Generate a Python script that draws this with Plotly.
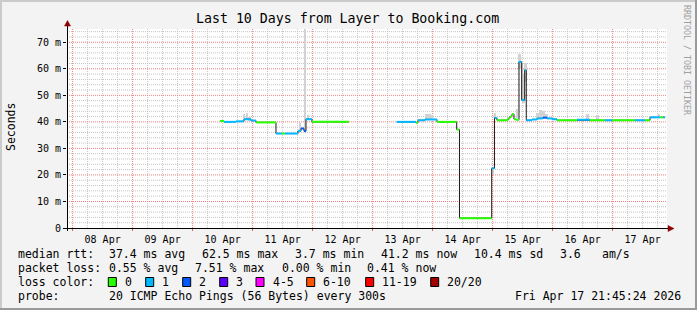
import plotly.graph_objects as go

# ---------------- data ----------------
seg_time = [
    "2026-04-10 10:57", "2026-04-10 12:33", "2026-04-10 17:21", "2026-04-10 20:33",
    "2026-04-10 23:21", "2026-04-11 01:21", "2026-04-11 09:21", "2026-04-11 11:45",
    "2026-04-11 12:57", "2026-04-11 18:09", "2026-04-11 19:21", "2026-04-11 20:33",
    "2026-04-11 21:21", "2026-04-11 23:45", "2026-04-12 14:33",
    "2026-04-13 09:38", "2026-04-13 17:21", "2026-04-13 18:09", "2026-04-13 20:57",
    "2026-04-14 01:45", "2026-04-14 09:38", "2026-04-14 10:45", "2026-04-14 23:38",
    "2026-04-15 00:45", "2026-04-15 01:45", "2026-04-15 06:09", "2026-04-15 06:57",
    "2026-04-15 07:45", "2026-04-15 08:33", "2026-04-15 09:21", "2026-04-15 10:33",
    "2026-04-15 11:38", "2026-04-15 12:50", "2026-04-15 13:28", "2026-04-15 15:45",
    "2026-04-15 17:45", "2026-04-15 20:09", "2026-04-15 21:45", "2026-04-15 23:45",
    "2026-04-16 01:45", "2026-04-16 09:45", "2026-04-16 14:57", "2026-04-16 20:57",
    "2026-04-16 23:45", "2026-04-17 08:57", "2026-04-17 12:57", "2026-04-17 14:57",
    "2026-04-17 18:57", "2026-04-17 20:09", "2026-04-17 20:57",
]
median_ms = [
    40.3, 40.0, 40.2, 41.0,
    40.5, 39.8, 35.6, 35.6,
    35.6, 36.6, 37.5, 36.5,
    41.0, 40.0, None,
    40.0, 39.7, 40.6, 40.9,
    40.0, 37.1, 3.7, 22.5,
    41.5, 40.6, 41.3, 42.0,
    42.9, 41.0, 40.8, 62.6,
    48.2, 59.5, 40.6, 40.9,
    41.3, 41.6, 41.3, 41.0,
    40.6, 40.8, 40.6, 40.6,
    40.6, 40.6, 40.6, 41.7,
    41.7, 41.7, None,
]
loss_count = [
    0, 1, 1, 1,
    1, 0, 1, 0,
    1, 1, 2, 2,
    1, 0, None,
    1, 0, 1, 1,
    0, 0, 0, 1,
    1, 0, 0, 0,
    0, 0, 0, 1,
    1, 1, 1, 1,
    1, 2, 1, 1,
    0, 1, 0, 1,
    0, 1, 0, 1,
    0, 1, None,
]

smoke_time = [
    "2026-04-10 20:30", "2026-04-10 21:40", "2026-04-10 22:50", "2026-04-11 19:00",
    "2026-04-11 21:00", "2026-04-11 22:10", "2026-04-13 21:30", "2026-04-13 22:40",
    "2026-04-13 23:50", "2026-04-15 00:10", "2026-04-15 01:00", "2026-04-15 09:40",
    "2026-04-15 10:50", "2026-04-15 11:40", "2026-04-15 12:20", "2026-04-15 13:10",
    "2026-04-15 18:00", "2026-04-15 19:10", "2026-04-15 20:20", "2026-04-15 21:30",
    "2026-04-16 14:00", "2026-04-16 18:00", "2026-04-17 18:30",
]
smoke_lo = [41.0, 41.0, 40.5, 37.0, 37.0, 41.0, 41.0, 41.0, 41.0, 20.0, 41.5, 41.5,
            60.0, 50.0, 47.0, 55.0, 41.5, 41.5, 41.5, 41.3, 41.0, 41.0, 41.7]
smoke_hi = [42.8, 43.2, 42.0, 39.5, 80.0, 42.5, 42.8, 43.0, 42.5, 22.5, 43.5, 45.0,
            65.5, 62.0, 58.0, 62.0, 43.5, 44.5, 44.0, 43.0, 43.0, 42.5, 43.0]

loss_labels = ["0", "1", "2", "3", "4-5", "6-10", "11-19", "20/20"]
loss_colors = ["#26ff00", "#00b8ff", "#0059ff", "#5e00ff", "#ff00ff", "#ff5500", "#ff0000", "#a00000"]

y_tick_vals = [0, 10, 20, 30, 40, 50, 60, 70]
y_tick_text = ["0", "10 m", "20 m", "30 m", "40 m", "50 m", "60 m", "70 m"]
x_days = ["2026-04-08", "2026-04-09", "2026-04-10", "2026-04-11", "2026-04-12",
          "2026-04-13", "2026-04-14", "2026-04-15", "2026-04-16", "2026-04-17"]

x_start = "2026-04-07 21:45:24"
x_end = "2026-04-17 21:45:24"

title_text = "Last 10 Days from Layer to Booking.com"
legend_rows = [
    [("median rtt:", 16), ("37.4 ms avg", 107.3), ("62.5 ms max", 200), ("3.7 ms min", 293.3),
     ("41.2 ms now", 379.3), ("10.4 ms sd", 472.3), ("3.6", 557.7), ("am/s", 600)],
    [("packet loss:", 16), ("0.55 % avg", 107.3), ("7.51 % max", 193.3), ("0.00 % min", 280),
     ("0.41 % now", 365)],
    [("loss color:", 16)],
    [("probe:", 16), ("20 ICMP Echo Pings (56 Bytes) every 300s", 107.3),
     ("Fri Apr 17 21:45:24 2026", 513.3)],
]
legend_row_y = [254, 268, 282, 296]
square_x = [108.3, 145.7, 182.7, 219.7, 256.0, 306.7, 365.7, 430.7]

# ---------------- geometry helpers ----------------
W, H = 697, 310
L, R, T, B = 67, 30, 29, 82
PW, PH = W - L - R, H - T - B


def px(x):
    return (x - L) / PW


def py(y):
    return (H - B - y) / PH


MONO = "DejaVu Sans Mono"
MGRID = "#f08080"
GRID = "#c4c4c4"

x_minor = [f"{d} {h:02d}:00" for d in ["2026-04-07"] + x_days for h in (6, 12, 18)]
y_minor = [v for v in range(2, 76, 2) if v % 10 != 0]


def bucket(n):
    if n <= 3:
        return n
    if n <= 5:
        return 4
    if n <= 10:
        return 5
    if n <= 19:
        return 6
    return 7


fig = go.Figure()

# smoke
fig.add_trace(go.Bar(
    x=smoke_time, y=[h - l for l, h in zip(smoke_lo, smoke_hi)], base=smoke_lo,
    width=3600000 * 1.0, marker=dict(color="#d2d2d2", line=dict(width=0)),
    hoverinfo="skip", showlegend=False,
))

# black median step line
bx, by = [], []
for i in range(len(seg_time) - 1):
    v = median_ms[i]
    if v is None:
        bx.append(None)
        by.append(None)
        continue
    bx += [seg_time[i], seg_time[i + 1]]
    by += [v, v]
fig.add_trace(go.Scatter(x=bx, y=by, mode="lines", line=dict(color="#1a1a1a", width=1),
                         hoverinfo="skip", showlegend=False))

# loss-coloured horizontal parts
for b, col in enumerate(loss_colors):
    cx, cy = [], []
    for i in range(len(seg_time) - 1):
        if median_ms[i] is None or bucket(loss_count[i]) != b:
            continue
        cx += [seg_time[i], seg_time[i + 1], None]
        cy += [median_ms[i], median_ms[i], None]
    if cx:
        fig.add_trace(go.Scatter(x=cx, y=cy, mode="lines", line=dict(color=col, width=2),
                                 hoverinfo="skip", showlegend=False))

shapes = []
# grid lines (below traces)
for xv in x_minor:
    if x_start <= xv <= x_end:
        shapes.append(dict(type="line", xref="x", yref="paper", x0=xv, x1=xv, y0=0, y1=1,
                           line=dict(color=GRID, width=1, dash="1px,1px"), layer="below"))
for yv in y_minor:
    shapes.append(dict(type="line", xref="paper", yref="y", x0=0, x1=1, y0=yv, y1=yv,
                       line=dict(color=GRID, width=1, dash="1px,1px"), layer="below"))
for xv in x_days:
    shapes.append(dict(type="line", xref="x", yref="paper", x0=xv, x1=xv, y0=0, y1=1,
                       line=dict(color=MGRID, width=1, dash="1px,1px"), layer="below"))
for yv in y_tick_vals[1:]:
    shapes.append(dict(type="line", xref="paper", yref="y", x0=0, x1=1, y0=yv, y1=yv,
                       line=dict(color=MGRID, width=1, dash="1px,1px"), layer="below"))

# frame borders
shapes.append(dict(type="rect", xref="paper", yref="paper", x0=px(0), x1=px(W), y0=py(0), y1=py(2),
                   fillcolor="#cbcbcb", line=dict(width=0), layer="above"))
shapes.append(dict(type="rect", xref="paper", yref="paper", x0=px(0), x1=px(2), y0=py(0), y1=py(H),
                   fillcolor="#cbcbcb", line=dict(width=0), layer="above"))
shapes.append(dict(type="rect", xref="paper", yref="paper", x0=px(W - 2), x1=px(W), y0=py(0), y1=py(H),
                   fillcolor="#9a9a9a", line=dict(width=0), layer="above"))
shapes.append(dict(type="rect", xref="paper", yref="paper", x0=px(0), x1=px(W), y0=py(H - 2), y1=py(H),
                   fillcolor="#9a9a9a", line=dict(width=0), layer="above"))
# axis lines
shapes.append(dict(type="line", xref="paper", yref="paper", x0=px(67.5), x1=px(67.5), y0=py(231), y1=py(24),
                   line=dict(color="black", width=1), layer="above"))
shapes.append(dict(type="line", xref="paper", yref="paper", x0=px(63), x1=px(670), y0=py(228.5), y1=py(228.5),
                   line=dict(color="black", width=1), layer="above"))
# arrows
shapes.append(dict(type="path", xref="paper", yref="paper",
                   path=f"M {px(64.5)},{py(26)} L {px(70.5)},{py(26)} L {px(67.5)},{py(20.5)} Z",
                   fillcolor="#8b0000", line=dict(color="#8b0000", width=0.5), layer="above"))
shapes.append(dict(type="path", xref="paper", yref="paper",
                   path=f"M {px(668)},{py(225.5)} L {px(668)},{py(231.5)} L {px(674)},{py(228.5)} Z",
                   fillcolor="#8b0000", line=dict(color="#8b0000", width=0.5), layer="above"))
# loss colour squares
for sx, col in zip(square_x, loss_colors):
    shapes.append(dict(type="rect", xref="paper", yref="paper", x0=px(sx), x1=px(sx + 8),
                       y0=py(286.5), y1=py(277.5), fillcolor=col, line=dict(color="black", width=1)))

annotations = []
for row, yy in zip(legend_rows, legend_row_y):
    for txt, xx in row:
        annotations.append(dict(text=txt, x=px(xx), y=py(yy), xref="paper", yref="paper",
                                xanchor="left", yanchor="middle", showarrow=False,
                                font=dict(family=MONO, size=11.5, color="black")))
for sx, lab in zip(square_x, loss_labels):
    annotations.append(dict(text=lab, x=px(sx + 14.5), y=py(282), xref="paper", yref="paper",
                            xanchor="left", yanchor="middle", showarrow=False,
                            font=dict(family=MONO, size=11.5, color="black")))
annotations.append(dict(text="Seconds", x=px(11), y=py(127), xref="paper", yref="paper",
                        textangle=-90, xanchor="center", yanchor="middle", showarrow=False,
                        font=dict(family=MONO, size=11.5, color="black")))
annotations.append(dict(text="RRDTOOL / TOBI OETIKER", x=px(687), y=py(60), xref="paper", yref="paper",
                        textangle=90, xanchor="center", yanchor="middle", showarrow=False,
                        font=dict(family=MONO, size=8.3, color="#a0a0a0")))
annotations.append(dict(text=title_text, x=px(347.7), y=py(18.5), xref="paper", yref="paper",
                        xanchor="center", yanchor="middle", showarrow=False,
                        font=dict(family=MONO, size=13.25, color="black")))

fig.update_layout(
    width=W, height=H, margin=dict(l=L, r=R, t=T, b=B, pad=0),
    paper_bgcolor="#f3f3f3", plot_bgcolor="#ffffff",
    showlegend=False, bargap=0, barmode="overlay",
    shapes=shapes, annotations=annotations,
    xaxis=dict(
        type="date", range=[x_start, x_end], tick0="2026-04-08", dtick=86400000,
        tickformat="%d %b", ticklabelmode="period",
        showgrid=False, ticks="outside", ticklen=2, tickcolor="#e06060",
        tickfont=dict(family=MONO, size=10, color="black"),
        showline=False, zeroline=False, fixedrange=True,
    ),
    yaxis=dict(
        range=[0, 75], tickmode="array", tickvals=y_tick_vals, ticktext=y_tick_text,
        showgrid=False, ticks="outside", ticklen=3, tickcolor="black",
        tickfont=dict(family=MONO, size=10, color="black"),
        showline=False, zeroline=False, fixedrange=True,
    ),
)

fig.write_html("out.html")
